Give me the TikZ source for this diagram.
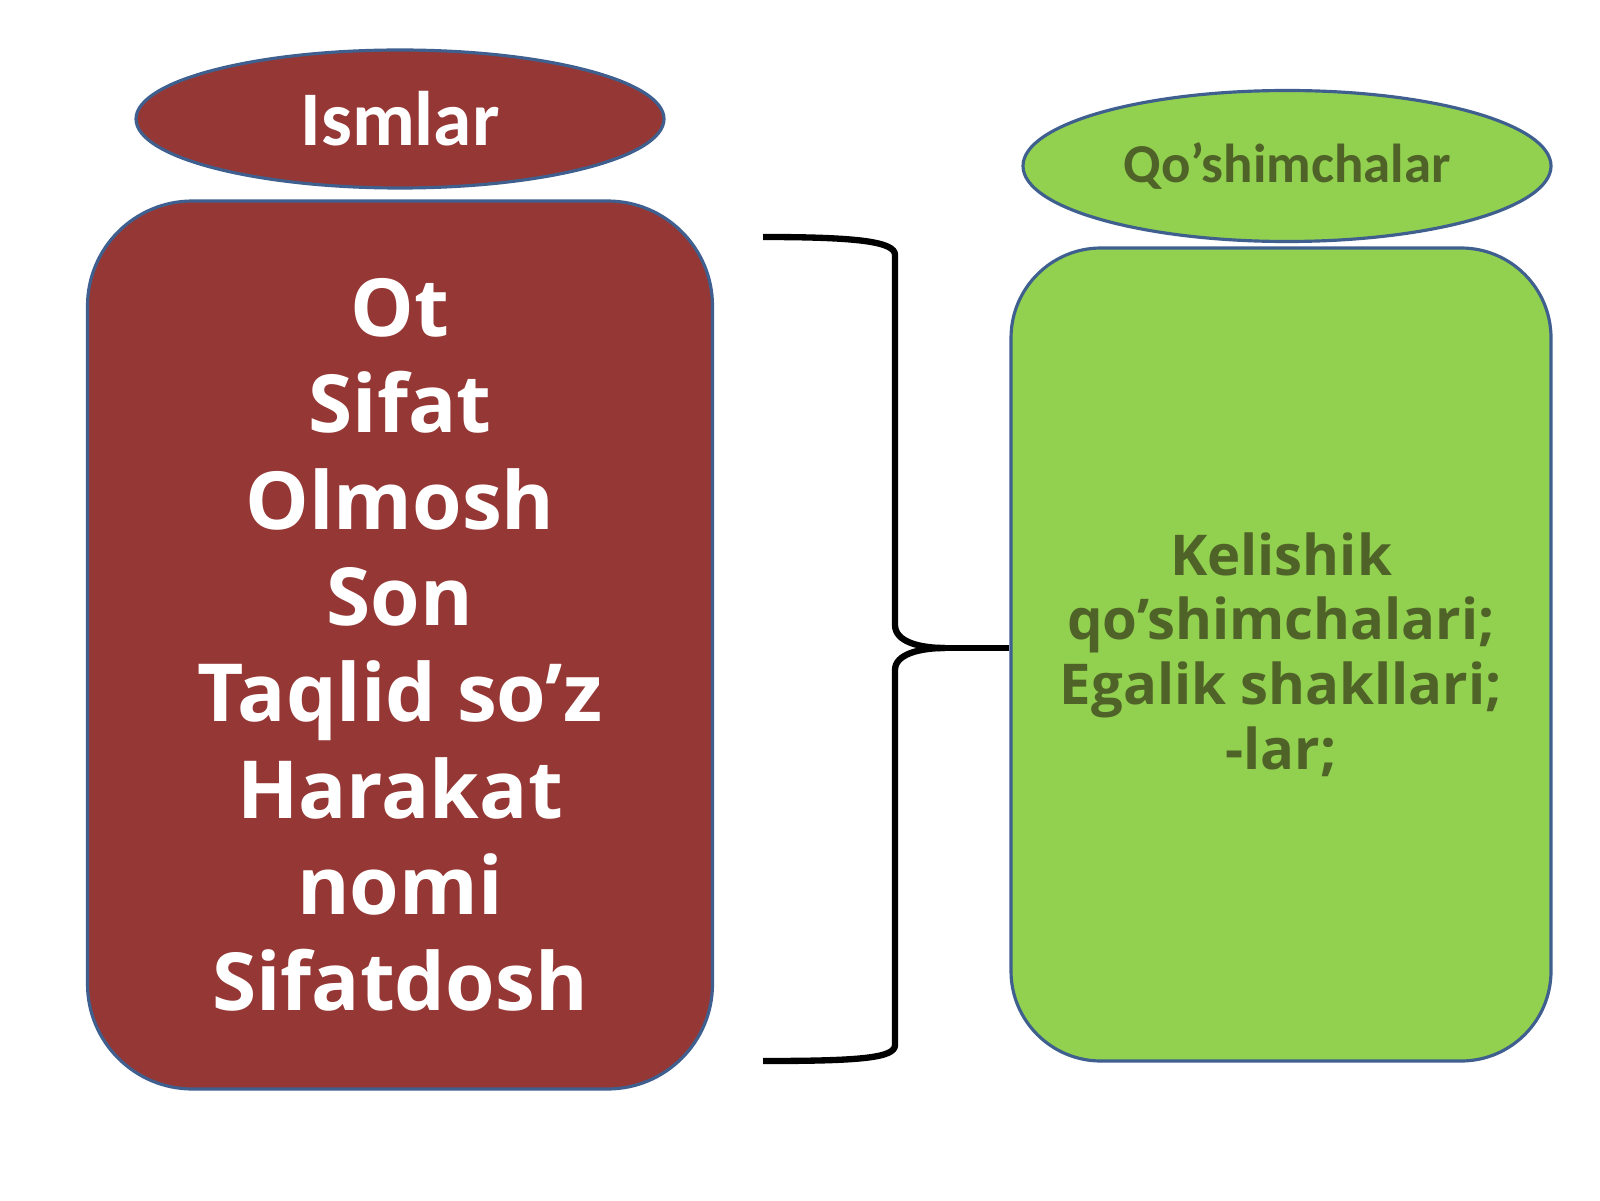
\documentclass[tikz,border=0pt]{standalone}
\usepackage{fontspec}
\setmainfont{Open Sans}
\newfontfamily\calib{Carlito}
\usepackage{xcolor}
\usepackage{tikz}
\usetikzlibrary{shapes.geometric,positioning,calc}

\definecolor{ismred}{HTML}{953735}
\definecolor{qoshgreen}{HTML}{92D050}
\definecolor{qoshtext}{HTML}{4F6228}
\definecolor{rim}{HTML}{3F5F8F}

\begin{document}
\begin{tikzpicture}[semithick]
	\tikzstyle{every node}=[draw=rim,line width=0.9pt,align=center]
	\tikzstyle{oval}=[ellipse,inner sep=0pt]
	\tikzstyle{panel}=[rectangle,inner sep=0pt]
	\useasboundingbox (0,0) rectangle (16,12);
	\node[oval,fill=ismred,text=white,minimum width=5.28cm,minimum height=1.38cm,
		font=\calib\bfseries\fontsize{22}{24}\selectfont] (ism) at (4.00,10.81) {Ismlar};
	\node[panel,fill=ismred,text=white,rounded corners=1.05cm,minimum width=6.25cm,minimum height=8.88cm,
		font=\bfseries\fontsize{22.8}{27.4}\selectfont] (ismbox) at (4.00,5.55)
		{Ot\\Sifat\\Olmosh\\Son\\Taqlid so’z\\Harakat\\nomi\\Sifatdosh};
	\node[oval,fill=qoshgreen,text=qoshtext,minimum width=5.28cm,minimum height=1.51cm,
		font=\calib\bfseries\fontsize{15.6}{18}\selectfont] (qosh) at (12.87,10.34) {Qo’shimchalar};
	\node[panel,fill=qoshgreen,text=qoshtext,rounded corners=0.9cm,minimum width=5.40cm,minimum height=8.13cm,
		font=\bfseries\fontsize{16}{18.4}\selectfont] (qoshbox) at (12.81,5.455)
		{Kelishik\\qo’shimchalari;\\Egalik shakllari;\\-lar;};
	% brace
	\coordinate (top) at (7.63,9.63);
	\coordinate (bot) at (7.63,1.39);
	\coordinate (tip) at (9.45,5.52);
	\draw[line width=1.8pt] (top) .. controls (8.6,9.63) and (8.95,9.58) .. (8.95,9.45) -- (8.95,5.75)
		.. controls (8.95,5.58) and (9.2,5.52) .. (tip);
	\draw[line width=1.8pt] (tip) .. controls (9.2,5.52) and (8.95,5.46) .. (8.95,5.3) -- (8.95,1.55)
		.. controls (8.95,1.42) and (8.6,1.39) .. (bot);
	\draw[line width=1.8pt] (tip) -- (tip -| qoshbox.west);
\end{tikzpicture}
\end{document}
